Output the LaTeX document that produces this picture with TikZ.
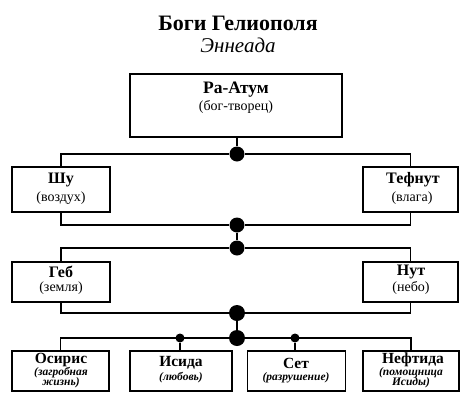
\documentclass[tikz,border=0pt]{standalone}
\usepackage{fontspec}
\setmainfont{Liberation Serif}
\begin{document}
\begin{tikzpicture}[x=1pt,y=-1pt,
  box/.style={draw,line width=1.8pt,inner sep=0pt,rectangle},
  conn/.style={line width=1.5pt},
  bigdot/.style={fill,circle,inner sep=0pt,minimum size=15pt},
  smalldot/.style={fill,circle,inner sep=0pt,minimum size=9pt},
  godname/.style={font=\fontsize{16}{16}\selectfont\bfseries,inner sep=0pt},
  godsub/.style={font=\fontsize{14}{14}\selectfont,inner sep=0pt},
  godisub/.style={font=\fontsize{11.5}{10.5}\selectfont\itshape\bfseries,inner sep=0pt,align=center}]
\useasboundingbox (0,0) rectangle (475,400);
% title
\node[font=\fontsize{22}{22}\selectfont\bfseries,inner sep=0pt] (title) at (238,23) {Боги Гелиополя};
\node[font=\fontsize{21}{21}\selectfont\itshape,inner sep=0pt] (subtitle) at (238,45) {Эннеада};
% boxes
\node[box,minimum width=212pt,minimum height=63pt] (ra) at (236,105.5) {};
\node[box,minimum width=98pt,minimum height=45pt] (shu) at (61,189.5) {};
\node[box,minimum width=95pt,minimum height=45pt] (tef) at (410.5,189.5) {};
\node[box,minimum width=98pt,minimum height=40pt] (geb) at (61,282) {};
\node[box,minimum width=95pt,minimum height=40pt] (nut) at (410.5,282) {};
\node[box,minimum width=97pt,minimum height=40pt] (osi) at (60.5,371) {};
\node[box,minimum width=102pt,minimum height=40pt] (isi) at (181,371) {};
\node[box,minimum width=98pt,minimum height=40pt] (set) at (296.5,371) {};
\node[box,minimum width=96pt,minimum height=40pt] (nef) at (411,371) {};
% texts
\node[godname,font=\fontsize{17.5}{17.5}\selectfont\bfseries] (tra) at (236,90) {Ра-Атум};
\node[godsub] (sra) at (236,107) {(бог-творец)};
\node[godname] (tshu) at (61,180) {Шу};
\node[godsub] (sshu) at (61,198) {(воздух)};
\node[godname] (ttef) at (413,180) {Тефнут};
\node[godsub] (stef) at (412,198) {(влага)};
\node[godname] (tgeb) at (61,272) {Геб};
\node[godsub] (sgeb) at (61,288) {(земля)};
\node[godname] (tnut) at (411,272) {Нут};
\node[godsub] (snut) at (411,288) {(небо)};
\node[godname,font=\fontsize{15.5}{15.5}\selectfont\bfseries] (tosi) at (61,360) {Осирис};
\node[godisub] (sosi) at (61,377.5) {(загробная\\жизнь)};
\node[godname,font=\fontsize{15.5}{15.5}\selectfont\bfseries] (tisi) at (181,363) {Исида};
\node[godisub] (sisi) at (181,378) {(любовь)};
\node[godname,font=\fontsize{15.5}{15.5}\selectfont\bfseries] (tset) at (296,363) {Сет};
\node[godisub] (sset) at (296,378) {(разрушение)};
\node[godname,font=\fontsize{15.5}{15.5}\selectfont\bfseries] (tnef) at (413,360) {Нефтида};
\node[godisub] (snef) at (411,377.5) {(помощница\\Исиды)};
% dots
\node[bigdot] (d1) at (237,154) {};
\node[bigdot] (d2) at (237,225) {};
\node[bigdot] (d3) at (237,248) {};
\node[bigdot,minimum size=16pt] (d4) at (237,313) {};
\node[bigdot,minimum size=16pt] (d5) at (237,338) {};
\node[smalldot] (s1) at (180,338) {};
\node[smalldot] (s2) at (295,338) {};
% connectors
\draw[conn] (ra.south -| d1) -- (d1);
\draw[conn] (shu.north) |- (d1) -| (tef.north);
\draw[conn] (shu.south) |- (d2) -| (tef.south);
\draw[conn] (d2) -- (d3);
\draw[conn] (geb.north) |- (d3) -| (nut.north);
\draw[conn] (geb.south) |- (d4) -| (nut.south);
\draw[conn] (d4) -- (d5);
\draw[conn] (osi.north) |- (d5) -| (nef.north);
\draw[conn] (s1) -- (isi.north -| s1);
\draw[conn] (s2) -- (set.north -| s2);
\end{tikzpicture}
\end{document}
